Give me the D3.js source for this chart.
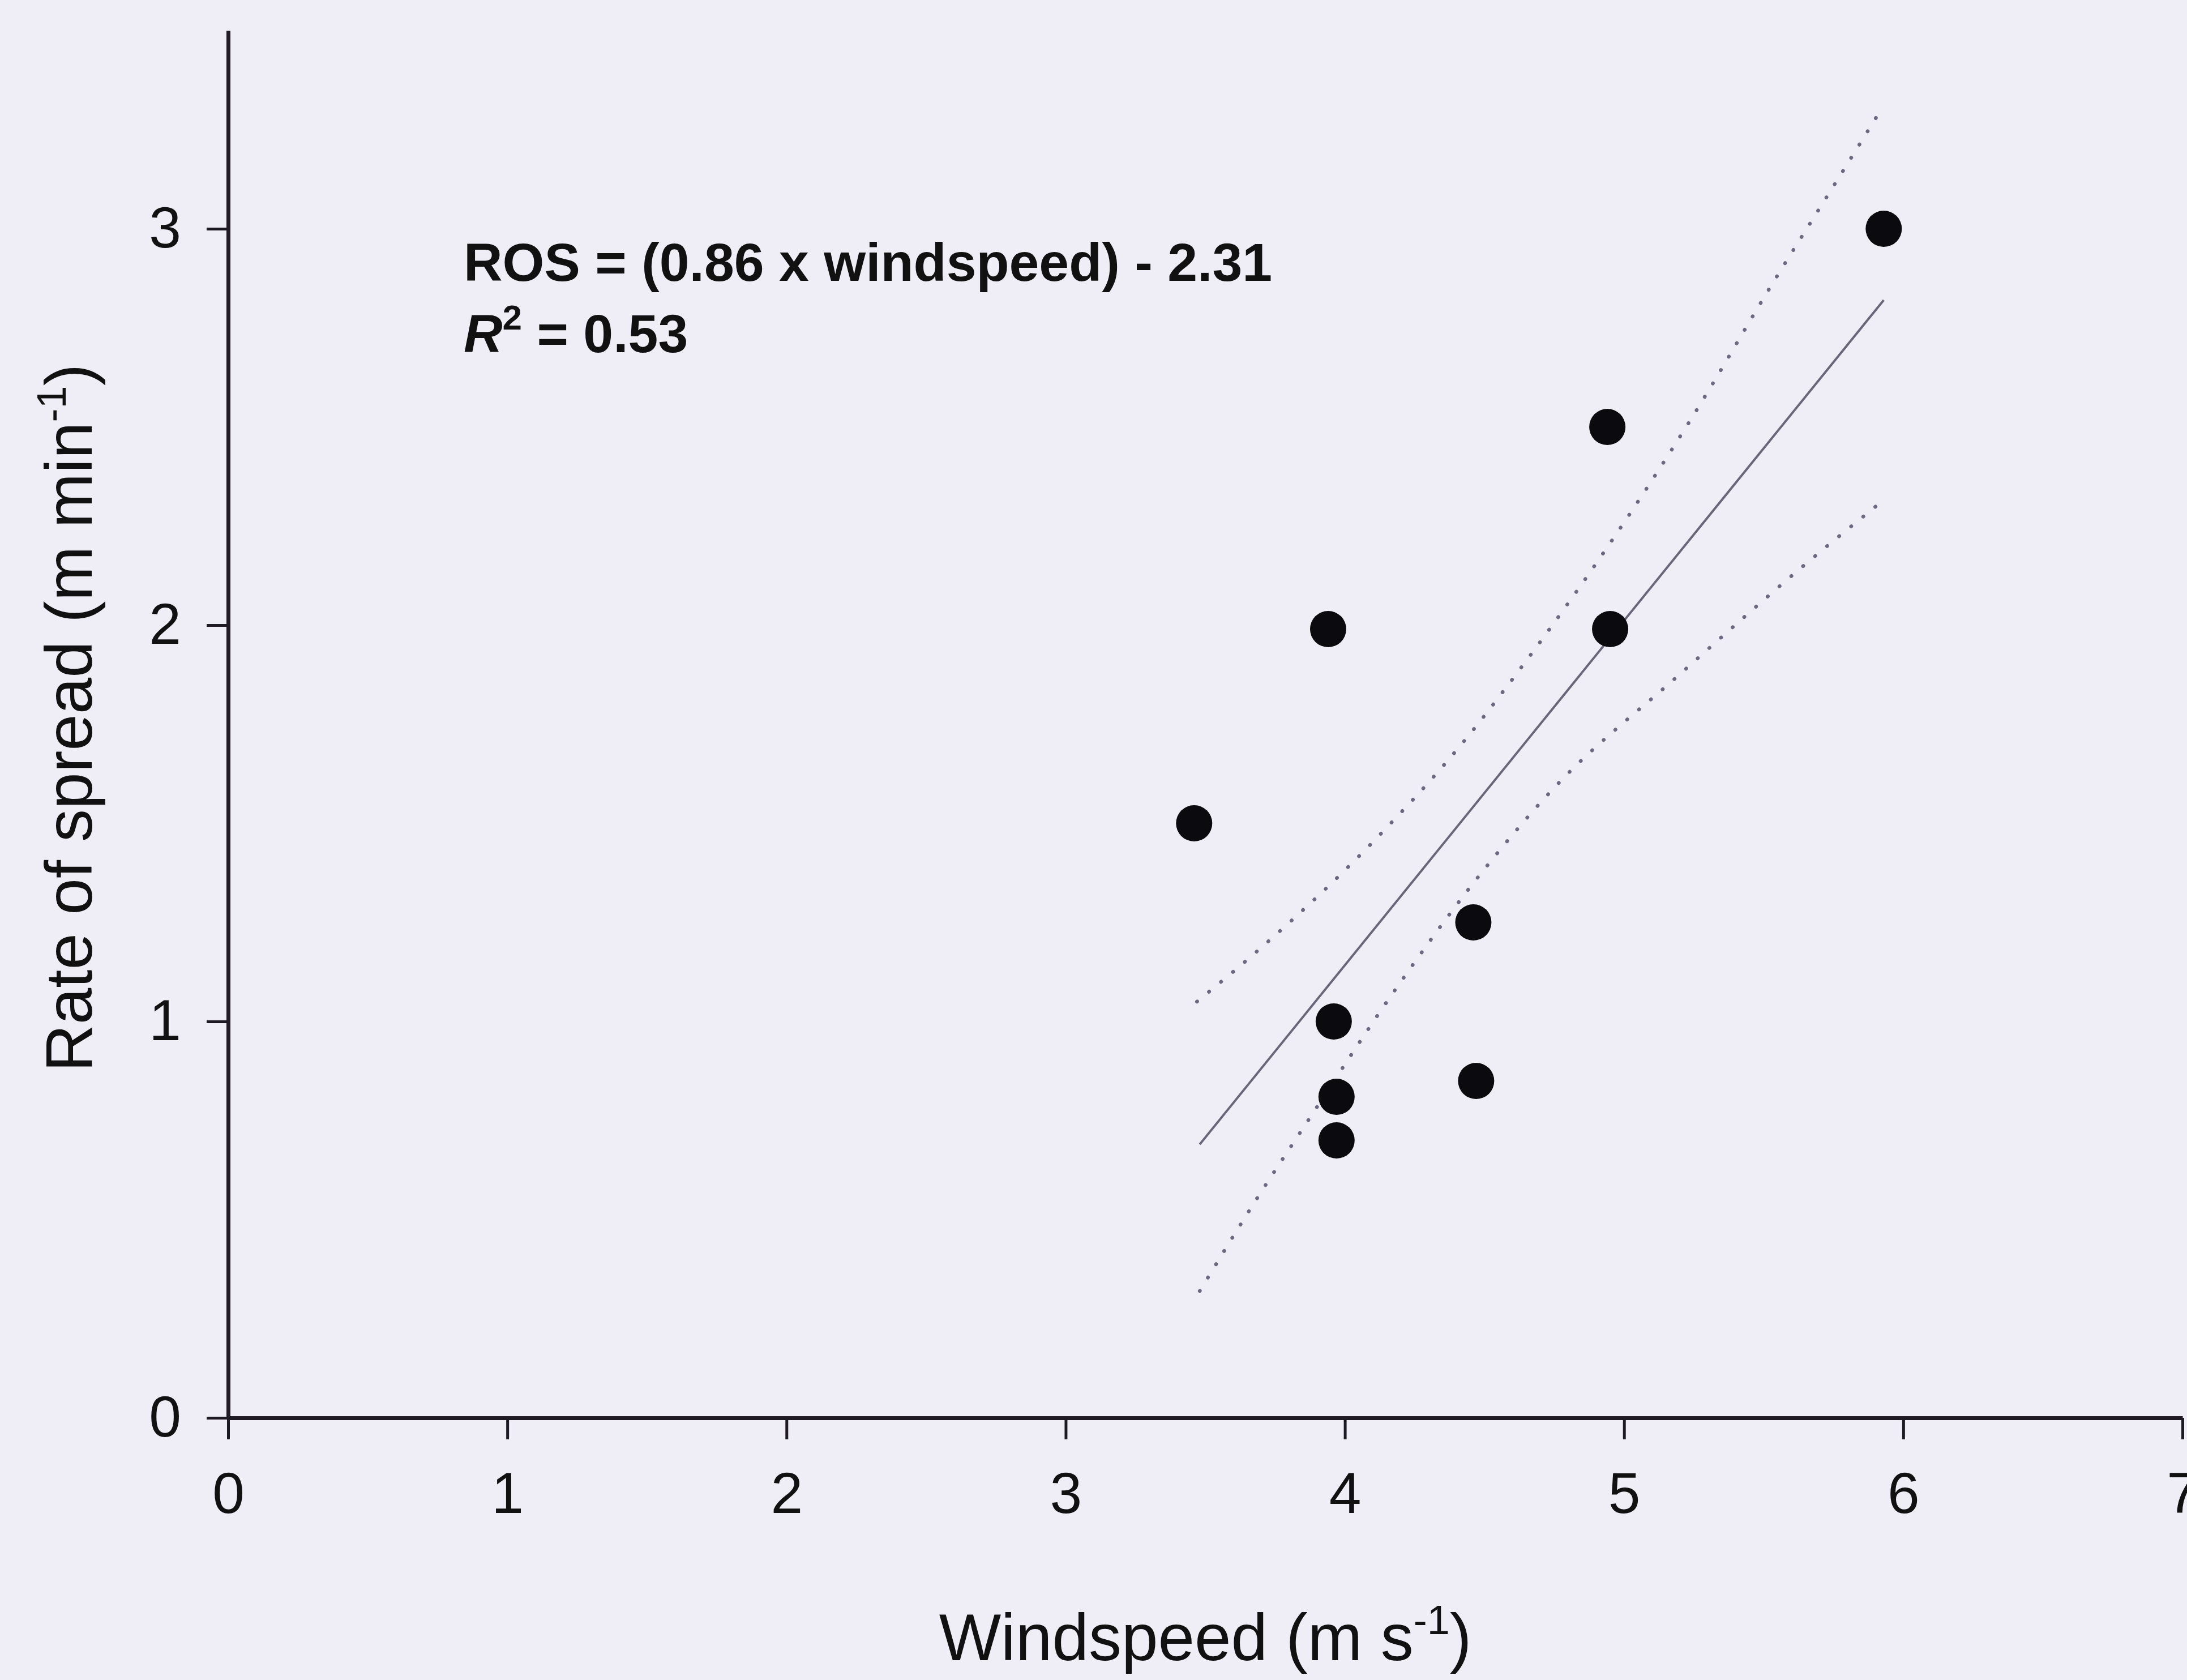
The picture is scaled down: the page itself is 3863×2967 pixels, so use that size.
<!DOCTYPE html>
<html>
<head>
<meta charset="utf-8">
<script src="https://cdn.jsdelivr.net/npm/d3@7"></script>
<style>
  html, body { margin: 0; padding: 0; background: #efeef7; }
  svg { display: block; }
  text { font-family: "Liberation Sans", Arial, Helvetica, sans-serif; fill: #111; }
</style>
</head>
<body>
<svg id="chart" width="3863" height="2967"></svg>
<script>
const windspeed = [3.46, 3.94, 3.96, 3.97, 3.97, 4.46, 4.47, 4.94, 4.95, 5.93];
const ros = [1.5, 1.99, 1.0, 0.81, 0.7, 1.25, 0.85, 2.5, 1.99, 3.0];

// fitted line end points
const fitX = [3.48, 5.93];
const fitY = [0.69, 2.82];

// dotted confidence bands
const upperX = [3.47, 3.69, 4.11, 4.43, 4.66, 5.24, 5.53, 5.77, 5.92];
const upperY = [1.05, 1.18, 1.46, 1.71, 1.92, 2.52, 2.86, 3.13, 3.30];
const lowerX = [3.48, 3.70, 3.84, 4.19, 4.45, 4.75, 5.19, 5.66, 5.92];
const lowerY = [0.32, 0.57, 0.72, 1.09, 1.34, 1.59, 1.87, 2.16, 2.31];

const xTicks = [0, 1, 2, 3, 4, 5, 6, 7];
const yTicks = [0, 1, 2, 3];

const svg = d3.select("#chart");
const margin = { top: 54, left: 403, bottom: 463, right: 8 };
const width = 3863, height = 2967;

const x = d3.scaleLinear().domain([0, 7]).range([margin.left, width - margin.right]);
const y = d3.scaleLinear().domain([0, 3.5]).range([height - margin.bottom, margin.top]);

// axes
const xAxisG = svg.append("g")
  .attr("transform", `translate(0,${y(0)})`)
  .call(d3.axisBottom(x).tickValues(xTicks).tickFormat(d3.format("d"))
    .tickSize(38).tickPadding(58).tickSizeOuter(0));

const yAxisG = svg.append("g")
  .attr("transform", `translate(${x(0)},0)`)
  .call(d3.axisLeft(y).tickValues(yTicks).tickFormat(d3.format("d"))
    .tickSize(38).tickPadding(45).tickSizeOuter(0));

[xAxisG, yAxisG].forEach(g => {
  g.select(".domain").attr("stroke", "#1d1a24").attr("stroke-width", 7);
  g.selectAll(".tick line").attr("stroke", "#1d1a24").attr("stroke-width", 5);
  g.selectAll(".tick text")
    .attr("font-size", 102)
    .attr("font-family", "Liberation Sans, Arial, sans-serif")
    .attr("fill", "#111");
});

// confidence bands
const bandLine = d3.line().x(d => x(d[0])).y(d => y(d[1])).curve(d3.curveMonotoneX);
[[upperX, upperY], [lowerX, lowerY]].forEach(([bx, by]) => {
  svg.append("path")
    .datum(bx.map((v, i) => [v, by[i]]))
    .attr("d", bandLine)
    .attr("fill", "none")
    .attr("stroke", "#6c6880")
    .attr("stroke-width", 6.5)
    .attr("stroke-linecap", "round")
    .attr("stroke-dasharray", "0.5,27");
});

// regression line
svg.append("line")
  .attr("x1", x(fitX[0])).attr("y1", y(fitY[0]))
  .attr("x2", x(fitX[1])).attr("y2", y(fitY[1]))
  .attr("stroke", "#6a6578")
  .attr("stroke-width", 4);

// points
svg.append("g")
  .selectAll("circle")
  .data(windspeed.map((w, i) => ({ w, r: ros[i] })))
  .join("circle")
  .attr("cx", d => x(d.w))
  .attr("cy", d => y(d.r))
  .attr("r", 32)
  .attr("fill", "#0b0a0e");

// equation annotation
const ann = svg.append("g").attr("font-weight", "bold").attr("font-size", 95);
ann.append("text")
  .attr("x", 819).attr("y", 496)
  .text("ROS = (0.86 x windspeed) - 2.31");
const r2 = ann.append("text").attr("x", 819).attr("y", 622);
r2.append("tspan").attr("font-style", "italic").text("R");
r2.append("tspan").attr("font-size", 62).attr("dy", -40).text("2");
r2.append("tspan").attr("dy", 40).text(" = 0.53");

// axis titles
const xt = svg.append("text")
  .attr("x", (x(0) + x(7)) / 2)
  .attr("y", 2932)
  .attr("text-anchor", "middle")
  .attr("font-size", 116);
xt.append("tspan").text("Windspeed (m s");
xt.append("tspan").attr("font-size", 72).attr("dy", -46).text("-1");
xt.append("tspan").attr("dy", 46).text(")");

const yt = svg.append("text")
  .attr("transform", "rotate(-90)")
  .attr("x", -1268)
  .attr("y", 162)
  .attr("text-anchor", "middle")
  .attr("font-size", 116);
yt.append("tspan").text("Rate of spread (m min");
yt.append("tspan").attr("font-size", 72).attr("dy", -46).text("-1");
yt.append("tspan").attr("dy", 46).text(")");
</script>
</body>
</html>
